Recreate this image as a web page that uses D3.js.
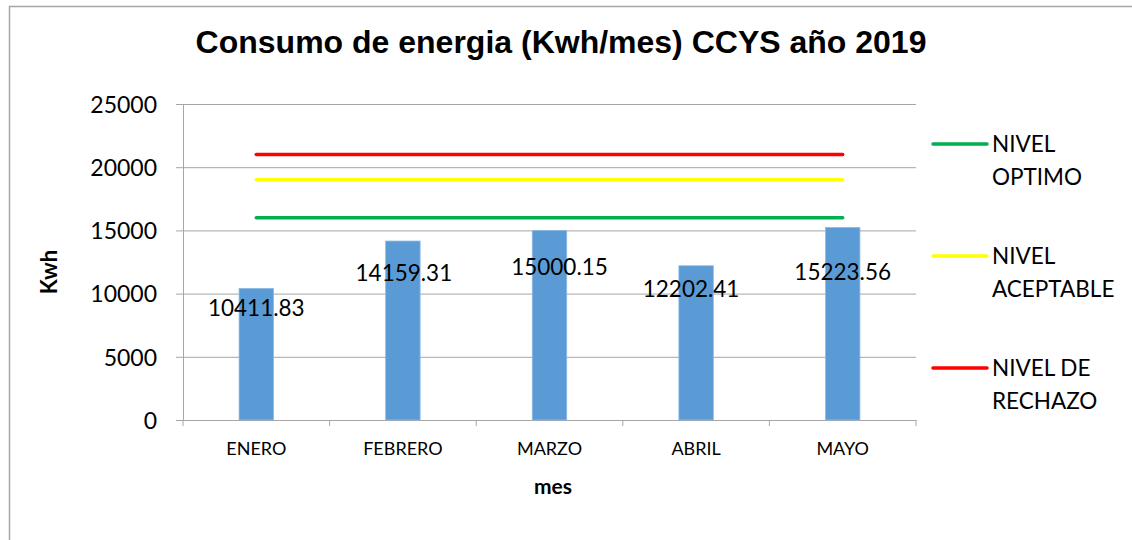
<!DOCTYPE html>
<html>
<head>
<meta charset="utf-8">
<script src="https://cdn.jsdelivr.net/npm/d3@7"></script>
<style>
  body { margin: 0; background: #fff; }
  svg { display: block; }
</style>
</head>
<body>
<div id="chart"></div>
<script>
// datos
const meses = ["ENERO", "FEBRERO", "MARZO", "ABRIL", "MAYO"];
const consumo = [10411.83, 14159.31, 15000.15, 12202.41, 15223.56];
const nivelOptimo = [16000, 16000, 16000, 16000, 16000];
const nivelAceptable = [19000, 19000, 19000, 19000, 19000];
const nivelRechazo = [21000, 21000, 21000, 21000, 21000];
const yTicks = [0, 5000, 10000, 15000, 20000, 25000];

// ajustes a mano de las etiquetas (px) como en el original
const labelNudge = [[0, 28], [1, 40], [10, 45], [-5, 31], [0, 52]];

const width = 1132;
const height = 540;
const margin = { top: 104, right: 216, bottom: 120, left: 183 };
const gridColor = "#a6a6a6";
const font = "Lato, 'Open Sans', sans-serif";

const svg = d3
  .select("#chart")
  .append("svg")
  .attr("width", width)
  .attr("height", height);

// marco del grafico
svg
  .append("rect")
  .attr("x", 9.5)
  .attr("y", 6.5)
  .attr("width", width + 20)
  .attr("height", height + 20)
  .attr("fill", "none")
  .attr("stroke", gridColor)
  .attr("stroke-width", 1.5);

const x = d3
  .scaleBand()
  .domain(meses)
  .range([margin.left, width - margin.right])
  .padding(0);

const y = d3
  .scaleLinear()
  .domain([0, 25000])
  .range([height - margin.bottom, margin.top]);

// titulo
svg
  .append("text")
  .attr("x", 561)
  .attr("y", 53)
  .attr("text-anchor", "middle")
  .attr("font-family", "'Liberation Sans', Arial, sans-serif")
  .attr("font-weight", "bold")
  .attr("font-size", 32)
  .text("Consumo de energia (Kwh/mes) CCYS año 2019");

// eje y con lineas de cuadricula
const yAxis = svg
  .append("g")
  .attr("transform", `translate(${margin.left},0)`)
  .call(
    d3
      .axisLeft(y)
      .tickValues(yTicks)
      .tickFormat(d3.format("d"))
      .tickSize(-(width - margin.right - margin.left))
      .tickSizeOuter(0)
      .tickPadding(26)
  );
yAxis.select(".domain").attr("stroke", gridColor);
yAxis
  .selectAll(".tick line")
  .attr("stroke", gridColor)
  .attr("x1", -7);
yAxis
  .selectAll(".tick text")
  .attr("font-family", font)
  .attr("font-size", 23)
  .attr("fill", "#000")
  .attr("dy", "0.36em");

// eje x
const xAxis = svg
  .append("g")
  .attr("transform", `translate(0,${height - margin.bottom})`)
  .call(d3.axisBottom(x).tickSize(0).tickPadding(22));
xAxis.select(".domain").attr("stroke", gridColor);
xAxis
  .selectAll(".tick text")
  .attr("font-family", font)
  .attr("font-size", 18)
  .attr("fill", "#000");

// marcas entre categorias
const bordes = meses.map((m) => x(m)).concat([x.range()[1]]);
svg
  .append("g")
  .selectAll("line")
  .data(bordes)
  .join("line")
  .attr("x1", (d) => d)
  .attr("x2", (d) => d)
  .attr("y1", height - margin.bottom)
  .attr("y2", height - margin.bottom + 6)
  .attr("stroke", gridColor);

// barras
const barW = x.bandwidth() * 0.235;
svg
  .append("g")
  .selectAll("rect")
  .data(consumo)
  .join("rect")
  .attr("x", (d, i) => x(meses[i]) + x.bandwidth() / 2 - barW / 2)
  .attr("y", (d) => y(d))
  .attr("width", barW)
  .attr("height", (d) => y(0) - y(d))
  .attr("fill", "#5b9bd5")
  .attr("stroke", "#8db9e3")
  .attr("stroke-width", 0.8);

// etiquetas de datos
svg
  .append("g")
  .selectAll("text")
  .data(consumo)
  .join("text")
  .attr("x", (d, i) => x(meses[i]) + x.bandwidth() / 2 + labelNudge[i][0])
  .attr("y", (d, i) => y(d) + labelNudge[i][1])
  .attr("text-anchor", "middle")
  .attr("font-family", font)
  .attr("font-size", 22.5)
  .attr("fill", "#000")
  .text((d) => d.toFixed(2));

// lineas de nivel
const series = [
  { name: ["NIVEL", "OPTIMO"], values: nivelOptimo, color: "#00b050" },
  { name: ["NIVEL", "ACEPTABLE"], values: nivelAceptable, color: "#ffff00" },
  { name: ["NIVEL DE", "RECHAZO"], values: nivelRechazo, color: "#ff0000" },
];

const line = d3
  .line()
  .x((d, i) => x(meses[i]) + x.bandwidth() / 2)
  .y((d) => y(d));

svg
  .append("g")
  .selectAll("path")
  .data(series)
  .join("path")
  .attr("d", (s) => line(s.values))
  .attr("fill", "none")
  .attr("stroke", (s) => s.color)
  .attr("stroke-width", 3.5)
  .attr("stroke-linecap", "round");

// leyenda
const legend = svg
  .append("g")
  .selectAll("g")
  .data(series)
  .join("g")
  .attr("transform", (d, i) => `translate(933,${144 + i * 112})`);

legend
  .append("line")
  .attr("x1", 0)
  .attr("x2", 54)
  .attr("stroke", (d) => d.color)
  .attr("stroke-width", 3.5)
  .attr("stroke-linecap", "round");

legend
  .append("text")
  .attr("font-family", font)
  .attr("font-size", 22.5)
  .attr("fill", "#000")
  .selectAll("tspan")
  .data((d) => d.name)
  .join("tspan")
  .attr("x", 59)
  .attr("y", (d, i) => 8 + i * 32.5)
  .text((d) => d);

// titulos de ejes
svg
  .append("text")
  .attr("x", 553)
  .attr("y", 494)
  .attr("text-anchor", "middle")
  .attr("font-family", font)
  .attr("font-weight", "bold")
  .attr("font-size", 21)
  .text("mes");

svg
  .append("text")
  .attr("transform", "translate(57,272) rotate(-90)")
  .attr("text-anchor", "middle")
  .attr("font-family", font)
  .attr("font-weight", "bold")
  .attr("font-size", 22)
  .text("Kwh");
</script>
</body>
</html>
